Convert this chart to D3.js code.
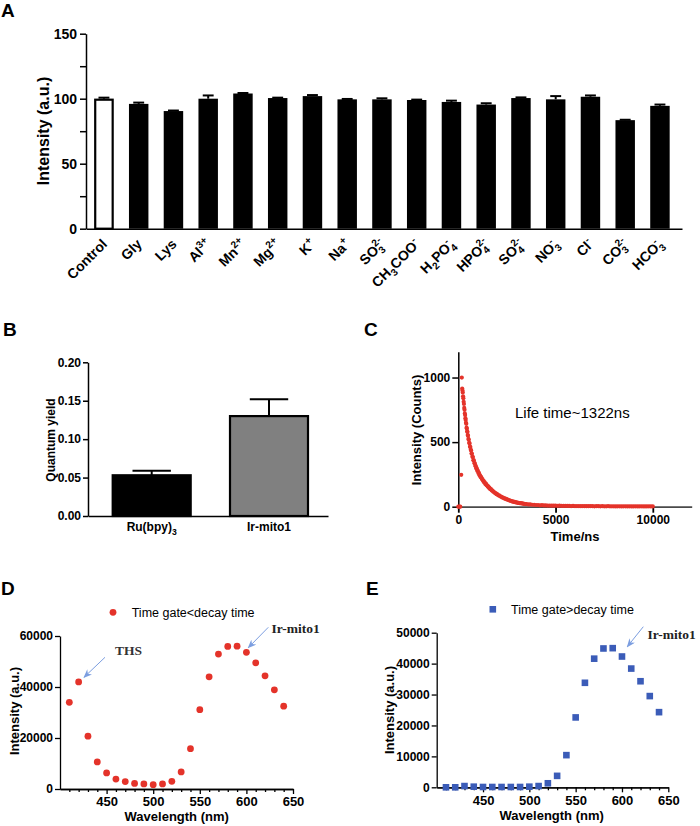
<!DOCTYPE html>
<html><head><meta charset="utf-8">
<script src="https://cdn.jsdelivr.net/npm/d3@7"></script>
<style>body{margin:0;background:#fff} svg{display:block}</style>
</head><body><svg id="c" width="700" height="826"></svg>
<script>
// ---------- DATA ----------
// Panel A
const ionLabels = ["Control","Gly","Lys","Al^{3+}","Mn^{2+}","Mg^{2+}","K^{+}","Na^{+}","SO_{3}^{2-}","CH_{3}COO^{-}","H_{2}PO_{4}^{-}","HPO_{4}^{2-}","SO_{4}^{2-}","NO_{3}^{-}","Cl^{-}","CO_{3}^{2-}","HCO_{3}^{-}"];
const ionValues = [100,96,90.5,100,104,100.5,102,99.5,99.5,99,97.5,95.5,100.5,99.5,101.5,83.5,94.5];
const ionErrors = [0.8,1,0.4,2.5,0.4,0.3,0.8,0.3,0.8,0.3,1,1,0.5,2.5,1,0.3,1];
const ionTicks = [0,50,100,150];
const ionMinorTicks = [25,75,125];
// Panel B
const qyLabels = ["Ru(bpy)_{3}","Ir-mito1"];
const qyValues = [0.053,0.130];
const qyErrors = [0.006,0.022];
const qyTicks = [0,0.05,0.10,0.15,0.20];
// Panel C : [time ns, counts]
const decayPoints = [[0,0],[50,0],[100,0],[150,247],[180,1000],[200,915],[215,900],[230,885],[245,855],[260,840],[275,812],[290,795],[305,765],[320,750],[335,722],[350,710],[365,685],[380,672],[395,650],[410,642],[425,612],[440,605],[455,585],[470,578],[485,555],[500,550],[520,525],[540,518],[560,495],[580,490],[600,465],[620,462],[640,440],[660,436],[680,412],[700,410],[725,386],[750,384],[775,360],[800,358],[825,338],[850,336],[875,318],[900,314],[925,296],[950,296],[975,278],[1000,280],[1030,260],[1060,262],[1090,244],[1120,242],[1150,228],[1180,229],[1210,214],[1240,214],[1270,200],[1300,200],[1330,188],[1360,188],[1390,176],[1420,178],[1450,166],[1480,166],[1510,156],[1540,158],[1570,146],[1600,148],[1640,136],[1680,136],[1720,126],[1760,124],[1800,116],[1840,114],[1880,106],[1920,105],[1960,97],[2000,97],[2050,88],[2100,88],[2150,80],[2200,79],[2250,72],[2300,71],[2350,65],[2400,64],[2450,58],[2500,58],[2550,52],[2600,52],[2650,47],[2700,46],[2750,42],[2800,41],[2850,37],[2900,37],[2950,33],[3000,34],[3050,30],[3100,30],[3150,27],[3200,28],[3250,25],[3300,25],[3350,22],[3400,23],[3450,20],[3500,21],[3600,18],[3700,18],[3800,15],[3900,15],[4000,13],[4100,13],[4200,11],[4300,12],[4400,10],[4500,10],[4600,9],[4700,9],[4800,8],[4900,8],[5000,8],[5100,7],[5200,8],[5300,7],[5400,6],[5500,7],[5600,6],[5700,6],[5800,5],[5900,6],[6000,5],[6100,5],[6200,5],[6300,4],[6400,5],[6500,4],[6600,4],[6700,4],[6800,5],[6900,4],[7000,3],[7100,4],[7200,4],[7300,3],[7400,4],[7500,3],[7600,3],[7700,4],[7800,3],[7900,3],[8000,3],[8100,2],[8200,3],[8300,3],[8400,2],[8500,3],[8600,3],[8700,2],[8800,3],[8900,2],[9000,2],[9100,3],[9200,2],[9300,2],[9400,3],[9500,2],[9600,2],[9700,2],[9800,3],[9900,2],[10000,2]];
const decayXTicks = [0,5000,10000];
const decayYTicks = [0,500,1000];
// Panel D / E
const wavelengths = [410,420,430,440,450,460,470,480,490,500,510,520,530,540,550,560,570,580,590,600,610,620,630,640];
const gateShort = [34000,42000,20700,10600,6300,3900,2900,2200,2000,1700,2000,3000,6700,15800,31100,44000,52900,55900,56000,53600,49500,44400,38900,32500];
const gateLong = [0,0,400,200,100,100,100,100,100,200,400,1300,3700,10400,22600,33800,41600,44900,45000,42300,38400,34300,29500,24300];
const wlTicks = [450,500,550,600,650];
const wlMinorTicks = [410,420,430,440,460,470,480,490,510,520,530,540,560,570,580,590,610,620,630,640];
const dYTicks = [0,20000,40000,60000];
const eYTicks = [0,10000,20000,30000,40000,50000];

// ---------- DRAW ----------
const FONT = '"Liberation Sans", Arial, Helvetica, sans-serif';
const SERIF = '"Liberation Serif", "Times New Roman", serif';
const RED = "#e4332a", BLUE = "#3b5cb8", ARROW = "#7c9ee0";
const svg = d3.select("#c").attr("font-family", FONT);

svg.append("defs").append("marker").attr("id","ah").attr("viewBox","0 0 10 8")
  .attr("refX",9).attr("refY",4).attr("markerWidth",9).attr("markerHeight",7)
  .attr("markerUnits","userSpaceOnUse").attr("orient","auto")
  .append("path").attr("d","M0,0 L10,4 L0,8 L3,4 z").attr("fill",ARROW);

function styleAxis(g, fs, sw=1.5, col="#000") {
  g.select(".domain").attr("stroke",col).attr("stroke-width",sw);
  g.selectAll(".tick line").attr("stroke","#000").attr("stroke-width",sw);
  g.selectAll(".tick text").attr("font-size",fs).attr("font-weight","bold").attr("fill","#000").attr("font-family",FONT);
}
function richText(t, label, fs) {
  const toks = label.match(/\^\{[^}]*\}|_\{[^}]*\}|[^_^]+/g);
  let shift = 0, lastSub = null;
  toks.forEach(tok => {
    const kind = tok[0]==="^" ? "sup" : tok[0]==="_" ? "sub" : "n";
    const s = kind==="n" ? tok : tok.slice(2,-1);
    const target = kind==="sup" ? -0.42*fs : kind==="sub" ? 0.3*fs : 0;
    const ts = t.append("tspan").text(s).attr("dy", target-shift).attr("font-size", kind==="n"?fs:fs*0.72);
    if (kind==="sup" && lastSub) ts.attr("dx", -lastSub.node().getComputedTextLength());
    lastSub = kind==="sub" ? ts : null;
    shift = target;
  });
}
function panelLetter(x,y,s){ svg.append("text").attr("x",x).attr("y",y).attr("font-size",19).attr("font-weight","bold").text(s); }
function yTitle(x,y,s,fs){ svg.append("text").attr("transform",`translate(${x},${y}) rotate(-90)`).attr("text-anchor","middle").attr("font-size",fs).attr("font-weight","bold").text(s); }
function xTitle(x,y,s,fs){ svg.append("text").attr("x",x).attr("y",y).attr("text-anchor","middle").attr("font-size",fs).attr("font-weight","bold").text(s); }

// ===== Panel A =====
panelLetter(1,17,"A");
const xA = d3.scaleBand().domain(ionLabels).range([86,682]).paddingInner(0.44).paddingOuter(0.2955).align(0.4);
const yA = d3.scaleLinear().domain([0,150]).range([228.7,33.7]);
const gA = svg.append("g");
const bwA = xA.bandwidth();
gA.selectAll("rect").data(ionLabels).join("rect")
  .attr("x",(d,i)=> xA(d) + (i===0?1:0)).attr("width",(d,i)=> bwA - (i===0?2:0))
  .attr("y",(d,i)=> yA(ionValues[i]) + (i===0?1:0))
  .attr("height",(d,i)=> yA(0)-yA(ionValues[i]) - (i===0?1:0))
  .attr("fill",(d,i)=> i===0?"#fff":"#000")
  .attr("stroke","#000").attr("stroke-width",(d,i)=> i===0?2.2:0);
ionLabels.forEach((d,i)=>{
  const cx = xA(d)+bwA/2, y0 = yA(ionValues[i]), y1 = yA(ionValues[i]+ionErrors[i]);
  gA.append("line").attr("x1",cx).attr("x2",cx).attr("y1",y0).attr("y2",y1).attr("stroke","#000").attr("stroke-width",2);
  gA.append("line").attr("x1",cx-bwA*0.28).attr("x2",cx+bwA*0.28).attr("y1",y1).attr("y2",y1).attr("stroke","#000").attr("stroke-width",2);
});
styleAxis(gA.append("g").attr("transform","translate(86,0)")
  .call(d3.axisLeft(yA).tickValues(ionTicks.concat(ionMinorTicks)).tickFormat(d=> ionTicks.includes(d)? d : "").tickSize(6).tickSizeOuter(0).tickPadding(3)), 14);
styleAxis(gA.append("g").attr("transform","translate(0,228.7)")
  .call(d3.axisBottom(xA).tickSize(0).tickSizeOuter(0).tickFormat("")), 14);
ionLabels.forEach(d=>{
  const t = gA.append("text").attr("transform",`translate(${xA(d)+bwA/2+4},245) rotate(-45)`)
    .attr("text-anchor","end").attr("font-weight","bold").attr("font-size",14);
  richText(t, d, 14);
});
yTitle(49,131,"Intensity (a.u.)",16);

// ===== Panel B =====
panelLetter(3,336,"B");
const xB = d3.scaleBand().domain(qyLabels).range([88,328]).paddingInner(0.318).paddingOuter(0.182).align(0.555);
const yB = d3.scaleLinear().domain([0,0.2]).range([516,362.3]);
const gB = svg.append("g");
const bwB = xB.bandwidth();
gB.selectAll("rect").data(qyLabels).join("rect")
  .attr("x",d=>xB(d)+1).attr("width",bwB-2)
  .attr("y",(d,i)=>yB(qyValues[i])).attr("height",(d,i)=>yB(0)-yB(qyValues[i]))
  .attr("fill",(d,i)=> i===0?"#000":"#808080").attr("stroke","#000").attr("stroke-width",2.2);
qyLabels.forEach((d,i)=>{
  const cx = xB(d)+bwB/2, y0 = yB(qyValues[i]), y1 = yB(qyValues[i]+qyErrors[i]);
  gB.append("line").attr("x1",cx).attr("x2",cx).attr("y1",y0).attr("y2",y1).attr("stroke","#000").attr("stroke-width",2);
  gB.append("line").attr("x1",cx-bwB*0.24).attr("x2",cx+bwB*0.24).attr("y1",y1).attr("y2",y1).attr("stroke","#000").attr("stroke-width",2);
});
styleAxis(gB.append("g").attr("transform","translate(88,0)")
  .call(d3.axisLeft(yB).tickValues(qyTicks).tickFormat(d3.format(".2f")).tickSize(5).tickSizeOuter(0).tickPadding(2)), 12);
styleAxis(gB.append("g").attr("transform","translate(0,516)")
  .call(d3.axisBottom(xB).tickSize(0).tickSizeOuter(0).tickFormat("")), 12);
qyLabels.forEach(d=>{
  const t = gB.append("text").attr("x",xB(d)+bwB/2).attr("y",531).attr("text-anchor","middle").attr("font-weight","bold").attr("font-size",12);
  richText(t, d, 12);
});
yTitle(55,440,"Quantum yield",12);

// ===== Panel C =====
panelLetter(364,336,"C");
const xC = d3.scaleLinear().domain([0,12000]).range([458.3,691.7]);
const yC = d3.scaleLinear().domain([0,1200]).range([506.7,351.7]);
const gC = svg.append("g");
styleAxis(gC.append("g").attr("transform","translate(0,506.7)")
  .call(d3.axisBottom(xC).tickValues(decayXTicks).tickFormat(d3.format("d")).tickSize(6).tickSizeOuter(0).tickPadding(3)), 12, 1.8, "#4a4a4a");
styleAxis(gC.append("g").attr("transform","translate(458.3,0)")
  .call(d3.axisLeft(yC).tickValues(decayYTicks).tickFormat(d3.format("d")).tickSize(6).tickSizeOuter(0).tickPadding(2)), 12);
gC.selectAll("circle").data(decayPoints).join("circle")
  .attr("cx",d=>xC(d[0])).attr("cy",d=>yC(d[1])).attr("r",2.1).attr("fill",RED);
svg.append("text").attr("x",515).attr("y",418).attr("font-size",15).text("Life time~1322ns");
yTitle(421,430,"Intensity (Counts)",13);
xTitle(575,541,"Time/ns",13);

// ===== Panel D =====
panelLetter(1,595,"D");
const xD = d3.scaleLinear().domain([400,650]).range([60,293]);
const yD = d3.scaleLinear().domain([0,60000]).range([789,636]);
const gD = svg.append("g");
styleAxis(gD.append("g").attr("transform","translate(0,789)")
  .call(d3.axisBottom(xD).tickValues(wlMinorTicks).tickFormat("").tickSize(3).tickSizeOuter(0)), 13, 1.3);
styleAxis(gD.append("g").attr("transform","translate(0,789)")
  .call(d3.axisBottom(xD).tickValues(wlTicks).tickFormat(d3.format("d")).tickSize(5).tickSizeOuter(0).tickPadding(3)), 13, 1.3);
styleAxis(gD.append("g").attr("transform","translate(60,0)")
  .call(d3.axisLeft(yD).tickValues(dYTicks).tickFormat(d3.format("d")).tickSize(5).tickSizeOuter(0).tickPadding(2)), 12, 1.3);
gD.selectAll("circle").data(wavelengths).join("circle")
  .attr("cx",d=>xD(d)).attr("cy",(d,i)=>yD(gateShort[i])).attr("r",3.4).attr("fill",RED);
svg.append("circle").attr("cx",113).attr("cy",612.3).attr("r",3.4).attr("fill",RED);
svg.append("text").attr("x",131.7).attr("y",616.8).attr("font-size",12.5).text("Time gate<decay time");
svg.append("text").attr("x",115).attr("y",655).attr("font-family",SERIF).attr("font-weight","bold").attr("font-size",13.5).attr("fill","#333").text("THS");
svg.append("text").attr("x",271.5).attr("y",633).attr("font-family",SERIF).attr("font-weight","bold").attr("font-size",13.5).attr("fill","#222").text("Ir-mito1");
svg.append("line").attr("x1",105).attr("y1",657.3).attr("x2",84).attr("y2",677.3).attr("stroke",ARROW).attr("stroke-width",1).attr("marker-end","url(#ah)");
svg.append("line").attr("x1",268.3).attr("y1",627.3).attr("x2",248.3).attr("y2",647.7).attr("stroke",ARROW).attr("stroke-width",1).attr("marker-end","url(#ah)");
yTitle(19,711,"Intensity (a.u.)",13);
xTitle(176.7,821,"Wavelength (nm)",13);

// ===== Panel E =====
panelLetter(366,595,"E");
const xE = d3.scaleLinear().domain([400,650]).range([436.7,668.3]);
const yE = d3.scaleLinear().domain([0,50000]).range([787.3,632.7]);
const gE = svg.append("g");
styleAxis(gE.append("g").attr("transform","translate(0,787.3)")
  .call(d3.axisBottom(xE).tickValues(wlMinorTicks).tickFormat("").tickSize(3).tickSizeOuter(0)), 13, 1.3);
styleAxis(gE.append("g").attr("transform","translate(0,787.3)")
  .call(d3.axisBottom(xE).tickValues(wlTicks).tickFormat(d3.format("d")).tickSize(5).tickSizeOuter(0).tickPadding(3)), 13, 1.3);
styleAxis(gE.append("g").attr("transform","translate(436.7,0)")
  .call(d3.axisLeft(yE).tickValues(eYTicks).tickFormat(d3.format("d")).tickSize(5).tickSizeOuter(0).tickPadding(2)), 12, 1.3);
gE.selectAll("rect").data(wavelengths).join("rect")
  .attr("x",d=>xE(d)-3.3).attr("y",(d,i)=>yE(gateLong[i])-3.3).attr("width",6.6).attr("height",6.6).attr("fill",BLUE);
svg.append("rect").attr("x",489.5).attr("y",606).attr("width",6.6).attr("height",6.6).attr("fill",BLUE);
svg.append("text").attr("x",511).attr("y",613.8).attr("font-size",12.5).text("Time gate>decay time");
svg.append("text").attr("x",647.5).attr("y",639).attr("font-family",SERIF).attr("font-weight","bold").attr("font-size",13.5).attr("fill","#222").text("Ir-mito1");
svg.append("line").attr("x1",643.3).attr("y1",626.7).attr("x2",627.3).attr("y2",646.7).attr("stroke",ARROW).attr("stroke-width",1).attr("marker-end","url(#ah)");
yTitle(394,710,"Intensity (a.u.)",13);
xTitle(551.7,820,"Wavelength (nm)",13);
</script></body></html>
